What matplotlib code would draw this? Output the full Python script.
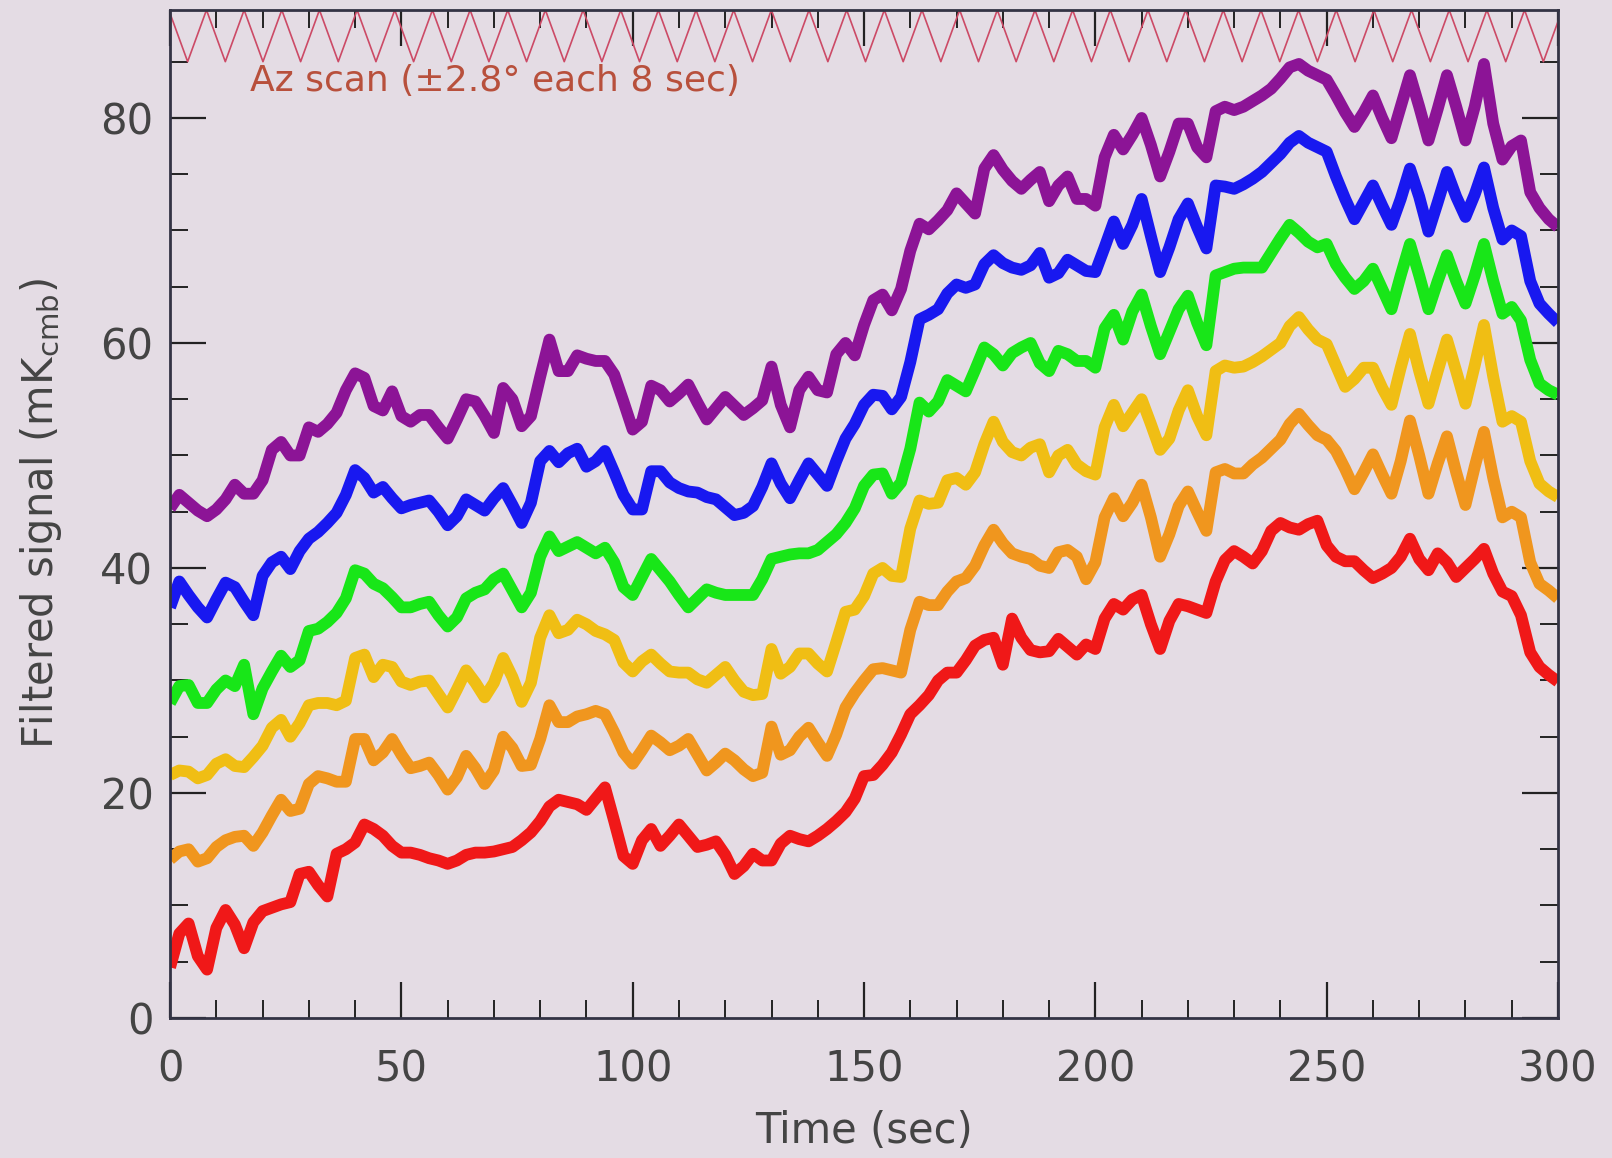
import matplotlib.pyplot as plt
import numpy as np

# time axis, every 2 s
time = np.arange(0, 301, 2)

# filtered signal per channel (mK_cmb)
purple = [45.3, 46.5, 45.8, 45.1, 44.6, 45.2, 46.1, 47.4, 46.6, 46.6,
          47.8, 50.5, 51.2, 50.0, 50.0, 52.5, 52.1, 52.8, 53.8, 55.8,
          57.3, 56.9, 54.4, 54.0, 55.7, 53.5, 53.0, 53.6, 53.6, 52.5,
          51.5, 53.2, 55.0, 54.8, 53.5, 52.0, 56.0, 55.0, 52.6, 53.5,
          57.0, 60.3, 57.5, 57.5, 58.9, 58.6, 58.4, 58.4, 57.2, 54.8,
          52.3, 53.0, 56.2, 55.8, 54.8, 55.5, 56.3, 54.7, 53.2, 54.2,
          55.2, 54.4, 53.6, 54.2, 54.9, 57.9, 54.5, 52.5, 55.8, 57.0,
          55.8, 55.6, 59.0, 60.0, 58.9, 61.6, 63.8, 64.3, 62.9, 64.8,
          68.2, 70.6, 70.1, 70.9, 71.8, 73.3, 72.4, 71.5, 75.5, 76.7,
          75.4, 74.4, 73.7, 74.5, 75.2, 72.6, 74.0, 74.8, 72.8, 72.8,
          72.2, 76.5, 78.5, 77.2, 78.5, 80.0, 77.6, 74.8, 77.0, 79.5,
          79.5, 77.4, 76.5, 80.6, 81.0, 80.7, 81.0, 81.5, 82.0, 82.6,
          83.5, 84.5, 84.8, 84.2, 83.8, 83.4, 82.0, 80.5, 79.2, 80.5,
          82.0, 80.0, 78.2, 81.0, 83.8, 81.0, 78.0, 80.8, 83.8, 81.0,
          78.0, 81.0, 84.8, 79.5, 76.3, 77.5, 78.0, 73.4, 72.0, 71.0,
          70.3]
blue = [36.5, 38.8, 37.6, 36.5, 35.6, 37.2, 38.7, 38.3, 37.0, 35.8,
        39.3, 40.5, 41.0, 39.9, 41.5, 42.6, 43.2, 44.0, 44.9, 46.5,
        48.7, 48.0, 46.7, 47.2, 46.2, 45.3, 45.6, 45.8, 46.0, 45.0,
        43.8, 44.6, 46.1, 45.6, 45.1, 46.2, 47.1, 45.6, 44.0, 45.8,
        49.5, 50.4, 49.4, 50.2, 50.6, 49.0, 49.5, 50.4, 48.5, 46.5,
        45.2, 45.2, 48.6, 48.6, 47.6, 47.1, 46.8, 46.7, 46.3, 46.1,
        45.4, 44.7, 44.9, 45.5, 47.2, 49.3, 47.5, 46.2, 47.8, 49.3,
        48.3, 47.3, 49.5, 51.5, 52.8, 54.5, 55.4, 55.3, 54.1, 55.2,
        58.3, 62.1, 62.5, 63.0, 64.4, 65.2, 64.9, 65.2, 67.0, 67.8,
        67.1, 66.7, 66.5, 66.9, 68.0, 65.8, 66.2, 67.4, 66.9, 66.4,
        66.3, 68.5, 70.8, 68.8, 70.5, 72.8, 69.5, 66.3, 68.5, 71.0,
        72.4, 70.3, 68.4, 74.0, 73.9, 73.7, 74.1, 74.6, 75.2, 76.0,
        76.8, 77.8, 78.4, 77.8, 77.4, 77.0, 74.8, 72.8, 71.0, 72.5,
        74.0, 72.2, 70.5, 72.8, 75.5, 73.0, 69.9, 72.5, 75.2, 73.0,
        71.2, 73.2, 75.6, 72.0, 69.2, 70.0, 69.5, 65.5, 63.5, 62.6,
        61.8]
green = [28.0, 29.5, 29.6, 28.0, 28.0, 29.2, 30.0, 29.5, 31.4, 27.0,
         29.3, 30.8, 32.2, 31.2, 31.8, 34.4, 34.6, 35.2, 36.0, 37.3,
         39.8, 39.5, 38.6, 38.2, 37.4, 36.5, 36.5, 36.8, 37.0, 35.8,
         34.8, 35.6, 37.3, 37.8, 38.1, 39.0, 39.5, 38.0, 36.5, 37.8,
         41.0, 42.8, 41.5, 41.9, 42.3, 41.8, 41.3, 41.8, 40.5, 38.3,
         37.6, 39.2, 40.8, 39.8, 38.8, 37.6, 36.5, 37.3, 38.1, 37.8,
         37.6, 37.6, 37.6, 37.6, 39.0, 40.8, 41.0, 41.2, 41.3, 41.3,
         41.6, 42.3, 43.0, 44.0, 45.3, 47.3, 48.3, 48.4, 46.6, 47.6,
         50.6, 54.7, 53.9, 54.8, 56.7, 56.2, 55.7, 57.6, 59.6, 59.0,
         58.0, 59.1, 59.6, 60.0, 58.2, 57.5, 59.3, 59.0, 58.4, 58.4,
         57.8, 61.3, 62.5, 60.3, 62.8, 64.3, 61.5, 59.0, 61.0, 63.0,
         64.2, 61.8, 59.8, 66.0, 66.3, 66.6, 66.7, 66.7, 66.7, 68.0,
         69.3, 70.5, 69.8, 69.0, 68.5, 68.8, 67.0, 65.8, 64.8, 65.5,
         66.6, 64.8, 63.0, 66.0, 68.8, 66.0, 63.0, 65.5, 67.8, 65.5,
         63.5, 66.0, 68.8, 65.5, 62.6, 63.2, 62.0, 58.5, 56.4, 55.8,
         55.4]
yellow = [21.6, 22.0, 21.9, 21.3, 21.6, 22.6, 23.0, 22.4, 22.3, 23.2,
          24.2, 25.8, 26.5, 25.0, 26.2, 27.8, 28.0, 28.0, 27.8, 28.2,
          32.0, 32.3, 30.3, 31.4, 31.2, 29.9, 29.6, 29.9, 30.0, 28.8,
          27.6, 29.2, 30.9, 29.8, 28.5, 29.8, 32.0, 30.3, 28.1, 29.8,
          33.8, 35.8, 34.2, 34.5, 35.4, 35.0, 34.4, 34.1, 33.6, 31.6,
          30.8, 31.7, 32.3, 31.5, 30.8, 30.7, 30.7, 30.1, 29.8, 30.5,
          31.2, 30.0, 29.0, 28.7, 28.8, 32.8, 30.6, 31.2, 32.4, 32.4,
          31.5, 30.8, 33.4, 36.1, 36.3, 37.5, 39.5, 40.0, 39.3, 39.2,
          43.5, 46.0, 45.7, 45.8, 47.8, 48.0, 47.4, 48.5, 51.0, 53.0,
          51.2, 50.3, 50.0, 50.7, 51.0, 48.5, 50.0, 50.5, 49.2, 48.6,
          48.3, 52.5, 54.5, 52.6, 53.8, 55.0, 52.8, 50.5, 51.5, 54.0,
          55.8, 53.5, 51.8, 57.5, 58.0, 57.8, 57.9, 58.3, 58.8, 59.4,
          60.0, 61.5, 62.3, 61.2, 60.3, 59.9, 58.0, 56.1, 56.8, 57.8,
          57.8, 56.0, 54.5, 57.8, 60.8, 57.5, 54.6, 57.5, 60.3, 57.5,
          54.6, 58.0, 61.6, 57.0, 53.0, 53.5, 53.0, 49.5, 47.5, 46.8,
          46.3]
orange = [14.1, 14.8, 15.0, 13.9, 14.2, 15.2, 15.8, 16.1, 16.2, 15.3,
          16.5, 18.0, 19.4, 18.4, 18.6, 20.8, 21.5, 21.3, 21.0, 21.0,
          24.8, 24.8, 22.9, 23.6, 24.8, 23.4, 22.2, 22.4, 22.7, 21.6,
          20.3, 21.4, 23.3, 22.2, 20.8, 22.0, 25.0, 24.0, 22.4, 22.5,
          24.8, 27.8, 26.3, 26.3, 26.8, 27.0, 27.3, 27.0, 25.4, 23.6,
          22.6, 23.8, 25.1, 24.5, 23.8, 24.2, 24.8, 23.4, 22.0, 22.7,
          23.5, 22.9, 22.1, 21.5, 21.8, 25.9, 23.4, 23.8, 25.0, 25.8,
          24.5, 23.3, 25.2, 27.6, 28.9, 30.0, 31.0, 31.1, 30.9, 30.7,
          34.5, 37.0, 36.7, 36.7, 37.9, 38.8, 39.1, 40.2, 42.0, 43.4,
          42.2, 41.3, 41.0, 40.8, 40.2, 40.0, 41.4, 41.6, 41.0, 39.0,
          40.5, 44.5, 46.2, 44.6, 45.8, 47.4, 44.5, 41.0, 43.0, 45.5,
          46.8, 45.0, 43.3, 48.5, 48.8, 48.4, 48.4, 49.2, 49.8, 50.6,
          51.4, 52.8, 53.7, 52.7, 51.8, 51.4, 50.4, 48.8, 47.0, 48.5,
          50.1, 48.3, 46.6, 49.5, 53.1, 50.0, 46.6, 49.3, 51.7, 48.5,
          45.6, 49.0, 52.1, 48.0, 44.5, 45.0, 44.5, 40.5, 38.6, 38.0,
          37.3]
red = [4.5, 7.5, 8.4, 5.5, 4.3, 8.0, 9.6, 8.3, 6.2, 8.5,
       9.5, 9.8, 10.1, 10.3, 12.8, 13.0, 11.8, 10.8, 14.6, 15.0,
       15.6, 17.2, 16.8, 16.2, 15.3, 14.7, 14.7, 14.5, 14.2, 14.0,
       13.7, 14.0, 14.5, 14.7, 14.7, 14.8, 15.0, 15.2, 15.8, 16.5,
       17.5, 18.8, 19.4, 19.2, 19.0, 18.5, 19.5, 20.5, 17.5, 14.4,
       13.7, 15.8, 16.8, 15.3, 16.2, 17.2, 16.2, 15.2, 15.4, 15.7,
       14.5, 12.8, 13.5, 14.6, 14.0, 14.0, 15.5, 16.2, 15.9, 15.7,
       16.2, 16.8, 17.5, 18.3, 19.5, 21.5, 21.6, 22.5, 23.6, 25.2,
       27.0, 27.8, 28.7, 30.0, 30.7, 30.7, 31.8, 33.1, 33.6, 33.8,
       31.4, 35.5, 33.8, 32.7, 32.5, 32.6, 33.7, 33.0, 32.3, 33.2,
       32.8, 35.5, 36.8, 36.3, 37.2, 37.6, 35.0, 32.8, 35.3, 36.8,
       36.6, 36.3, 36.0, 38.8, 40.7, 41.5, 41.0, 40.4, 41.5, 43.3,
       44.0, 43.6, 43.4, 43.9, 44.2, 42.0, 41.0, 40.6, 40.6, 39.8,
       39.1, 39.5, 40.0, 41.0, 42.6, 40.8, 39.8, 41.3, 40.5, 39.2,
       40.0, 40.8, 41.7, 39.5, 37.9, 37.5, 35.8, 32.5, 31.2, 30.5,
       29.9]

# azimuth scan: turning points every ~4 s, +/-2.8 deg
az_time = np.arange(-0.27, 305, 4.07)
az_deg = [2.8, -2.8, 2.8, -2.8, 2.8, -2.8, 2.8, -2.8, 2.8, -2.8,
          2.8, -2.8, 2.8, -2.8, 2.8, -2.8, 2.8, -2.8, 2.8, -2.8,
          2.8, -2.8, 2.8, -2.8, 2.8, -2.8, 2.8, -2.8, 2.8, -2.8,
          2.8, -2.8, 2.8, -2.8, 2.8, -2.8, 2.8, -2.8, 2.8, -2.8,
          2.8, -2.8, 2.8, -2.8, 2.8, -2.8, 2.8, -2.8, 2.8, -2.8,
          2.8, -2.8, 2.8, -2.8, 2.8, -2.8, 2.8, -2.8, 2.8, -2.8,
          2.8, -2.8, 2.8, -2.8, 2.8, -2.8, 2.8, -2.8, 2.8, -2.8,
          2.8, -2.8, 2.8, -2.8, 2.8]

series = [purple, blue, green, yellow, orange, red]
colors = ['#8c1496', '#1818f0', '#18e618', '#f0be14', '#f0961e', '#f01818']

bg = '#e4dce4'
plt.rcParams['font.family'] = 'DejaVu Sans'

fig = plt.figure(figsize=(16.12, 11.58), dpi=100, facecolor=bg)
ax = fig.add_axes([0.1055, 0.1209, 0.861, 0.8705])
ax.set_facecolor(bg)

for vals, c in zip(series, colors):
    ax.plot(time, vals, color=c, lw=8.5, solid_joinstyle='round',
            solid_capstyle='butt')

# az scan drawn at the top of the panel
az_y = 87.3 + np.array(az_deg) * 0.82
ax.plot(az_time[:len(az_deg)], az_y, color='#cc4a66', lw=1.2)
ax.text(17.3, 83.3, 'Az scan (±2.8° each 8 sec)', color='#b8503c',
        fontsize=26, va='center', ha='left')

ax.set_xlim(0, 300)
ax.set_ylim(0, 89.6)
ax.set_xticks(np.arange(0, 301, 50))
ax.set_xticks(np.arange(0, 301, 10), minor=True)
ax.set_yticks(np.arange(0, 81, 20))
ax.set_yticks(np.arange(0, 90, 5), minor=True)
ax.tick_params(which='both', direction='in', top=True, right=True,
               colors='#222222', labelcolor='#444444')
ax.tick_params(which='major', length=26, width=1.6, labelsize=30)
ax.tick_params(axis='x', which='major', pad=22)
ax.tick_params(axis='y', which='major', pad=12)
ax.tick_params(which='minor', length=13, width=1.4)
for s in ax.spines.values():
    s.set_linewidth(2)
    s.set_color('#333344')

ax.set_xlabel('Time (sec)', fontsize=30, color='#444444', labelpad=14)
ax.set_ylabel('Filtered signal (mK$_{\\rm cmb}$)', fontsize=30,
              color='#444444', labelpad=26)

fig.savefig('out.png', dpi=100, facecolor=bg)
